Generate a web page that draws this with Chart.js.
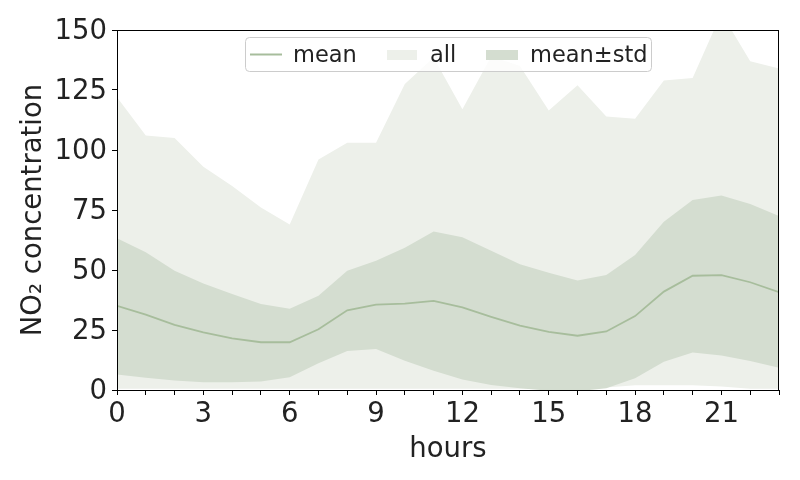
<!DOCTYPE html>
<html lang="en">
<head>
  <meta charset="UTF-8">
  <title>NO2 by hour</title>
  <script src="https://cdn.jsdelivr.net/npm/chart.js"></script>
  <style>
    html, body { margin: 0; padding: 0; background: #fff; }
    #wrap { width: 800px; height: 480px; }
  </style>
</head>
<body>
<div id="wrap"><canvas id="no2Chart" width="800" height="480"></canvas></div>

<script>
  // hourly NO2 stats
  var hours = [0, 1, 2, 3, 4, 5, 6, 7, 8, 9, 10, 11, 12, 13, 14, 15, 16, 17, 18, 19, 20, 21, 22, 23];
  var meanVals = [35.1, 31.4, 27.1, 24.0, 21.5, 19.9, 19.9, 25.3, 33.2, 35.6, 36.0, 37.1,
                  34.4, 30.5, 26.8, 24.2, 22.6, 24.4, 30.8, 41.0, 47.6, 47.9, 44.9, 40.8];
  var stdUpper = [63.2, 57.4, 49.7, 44.4, 40.0, 35.8, 33.9, 39.3, 49.7, 53.9, 59.3, 66.0,
                  63.6, 58.0, 52.4, 48.9, 45.6, 47.9, 56.3, 70.1, 79.2, 81.0, 77.5, 72.5];
  var stdLower = [6.5, 5.1, 4.0, 3.2, 3.2, 3.5, 5.3, 11.1, 16.3, 17.1, 12.2, 8.0,
                  4.4, 2.1, 0.7, -0.3, -0.5, 0.7, 4.9, 11.8, 15.6, 14.4, 12.1, 9.3];
  var allMax = [122, 106, 105, 93, 85, 76, 69, 96, 103, 103, 127.5, 138.5,
                117, 139, 135, 116.5, 127, 114, 113, 129, 130, 157, 137, 134];
  var allMin = [0.5, 0.5, 0.5, 0.5, 0.5, 0.5, 0.5, 0.5, 0.5, 0.5, 0.5, 0.5,
                0.5, 0.5, 0.5, 0.5, 0.5, 1.0, 2.0, 2.0, 2.0, 1.5, 0.5, 0.5];
  var yTicks = [0, 25, 50, 75, 100, 125, 150];

  var allColor = '#edf0ea';
  var stdColor = '#d4ddd0';
  var meanColor = '#a7bd9c';
  var textColor = '#222222';
  var fontFamily = '"DejaVu Sans", sans-serif';

  function pts(vals) {
    return hours.map(function(h, i) { return {x: h, y: vals[i]}; });
  }

  // frame around the plot, like the matplotlib spines
  var framePlugin = {
    id: 'frame',
    afterDatasetsDraw: function(chart) {
      var a = chart.chartArea, ctx = chart.ctx;
      ctx.save();
      ctx.strokeStyle = '#000';
      ctx.lineWidth = 1;
      ctx.strokeRect(Math.round(a.left) + 0.5, Math.round(a.top) + 0.5,
                     Math.round(a.right - a.left) - 1, Math.round(a.bottom - a.top));
      ctx.restore();
    }
  };

  // legend drawn inside the plot, upper centre
  var legendPlugin = {
    id: 'innerLegend',
    afterDraw: function(chart) {
      var ctx = chart.ctx;
      ctx.save();
      ctx.beginPath();
      ctx.roundRect(245.5, 37.5, 406, 34, 4);
      ctx.fillStyle = 'rgba(255,255,255,0.8)';
      ctx.fill();
      ctx.strokeStyle = '#cccccc';
      ctx.lineWidth = 1;
      ctx.stroke();

      ctx.strokeStyle = meanColor;
      ctx.lineWidth = 2;
      ctx.beginPath();
      ctx.moveTo(250, 54.5);
      ctx.lineTo(282, 54.5);
      ctx.stroke();

      ctx.fillStyle = allColor;
      ctx.fillRect(387, 50, 30, 10);
      ctx.fillStyle = stdColor;
      ctx.fillRect(486, 50, 32, 10);

      ctx.fillStyle = textColor;
      ctx.font = '22.5px ' + fontFamily;
      ctx.textBaseline = 'alphabetic';
      ctx.fillText('mean', 293, 62);
      ctx.fillText('all', 430, 62);
      ctx.fillText('mean\u00b1std', 530, 62);
      ctx.restore();
    }
  };

  var ctx = document.getElementById('no2Chart').getContext('2d');
  new Chart(ctx, {
    type: 'line',
    data: {
      datasets: [
        { label: 'min', data: pts(allMin), borderWidth: 0, pointRadius: 0, fill: false, order: 3 },
        { label: 'all', data: pts(allMax), borderWidth: 0, pointRadius: 0,
          fill: '-1', backgroundColor: allColor, order: 3 },
        { label: 'std low', data: pts(stdLower), borderWidth: 0, pointRadius: 0, fill: false, order: 2 },
        { label: 'mean\u00b1std', data: pts(stdUpper), borderWidth: 0, pointRadius: 0,
          fill: '-1', backgroundColor: stdColor, order: 2 },
        { label: 'mean', data: pts(meanVals), borderColor: meanColor, borderWidth: 1.8,
          pointRadius: 0, fill: false, order: 1 }
      ]
    },
    options: {
      responsive: false,
      animation: false,
      events: [],
      layout: { padding: { top: 30, right: 21, left: 0, bottom: 0 } },
      plugins: {
        legend: { display: false },
        tooltip: { enabled: false }
      },
      scales: {
        x: {
          type: 'linear',
          min: 0,
          max: 23,
          afterFit: function(scale) { scale.height = 90; },
          grid: { drawOnChartArea: false, drawTicks: true, tickLength: 5, color: '#000' },
          border: { display: false },
          ticks: {
            stepSize: 1,
            autoSkip: false,
            maxRotation: 0,
            padding: 3,
            color: textColor,
            font: { family: fontFamily, size: 27.5 },
            callback: function(v) { return v % 3 === 0 ? String(v) : ''; }
          },
          title: {
            display: true,
            text: 'hours',
            color: textColor,
            padding: { top: 0, bottom: 14 },
            font: { family: fontFamily, size: 27.5 }
          }
        },
        y: {
          min: 0,
          max: 150,
          afterFit: function(scale) { scale.width = 117; },
          afterBuildTicks: function(scale) {
            scale.ticks = yTicks.map(function(v) { return {value: v}; });
          },
          grid: { drawOnChartArea: false, drawTicks: true, tickLength: 5, color: '#000' },
          border: { display: false },
          ticks: {
            padding: 5,
            labelOffset: 2,
            color: textColor,
            font: { family: fontFamily, size: 27.5 }
          },
          title: {
            display: true,
            text: 'NO\u2082 concentration',
            color: textColor,
            padding: { top: 17, bottom: 0 },
            font: { family: fontFamily, size: 27.5 }
          }
        }
      }
    },
    plugins: [framePlugin, legendPlugin]
  });
</script>
</body>
</html>
